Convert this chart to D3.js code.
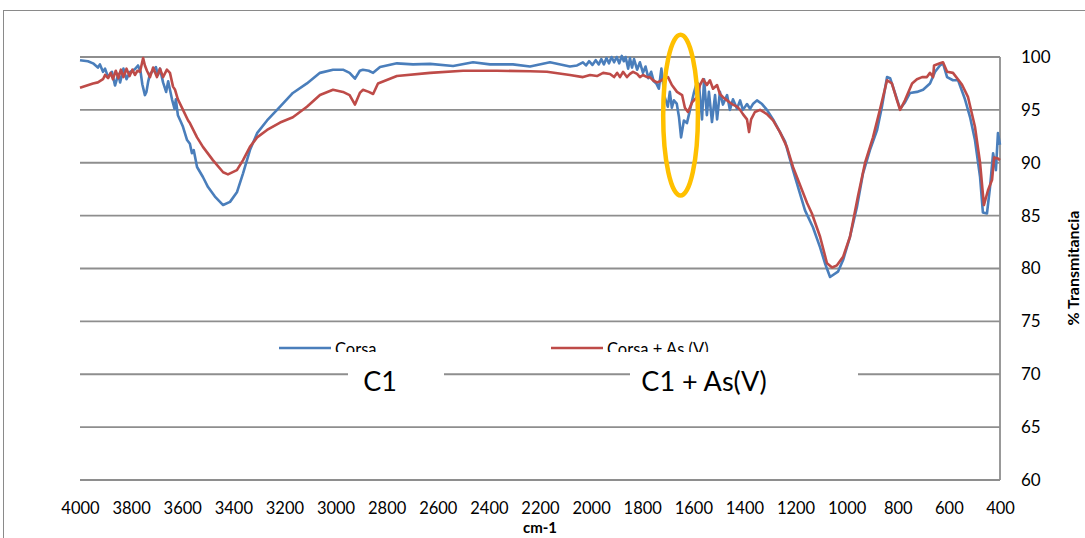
<!DOCTYPE html>
<html>
<head>
<meta charset="utf-8">
<script src="https://cdn.jsdelivr.net/npm/d3@7"></script>
<style>
  html, body { margin: 0; padding: 0; background: #fff; }
  svg { display: block; font-family: Lato, "Open Sans", sans-serif; }
</style>
</head>
<body>
<svg id="chart" width="1085" height="538"></svg>
<script>
// FTIR spectra: wavenumber (cm-1) vs % transmittance
const xTicks = [4000, 3800, 3600, 3400, 3200, 3000, 2800, 2600, 2400, 2200, 2000, 1800, 1600, 1400, 1200, 1000, 800, 600, 400];
const yTicks = [60, 65, 70, 75, 80, 85, 90, 95, 100];
const seriesNames = ["Corsa", "Corsa + As (V)"];
const boxLabels = ["C1", "C1 + As(V)"];

const corsa = [
  [4000, 99.7], [3969, 99.6], [3949, 99.4], [3930, 99.0], [3922, 99.3], [3910, 98.6], [3902, 98.9],
  [3890, 98.1], [3875, 98.6], [3863, 97.3], [3850, 98.4], [3843, 97.6], [3830, 98.9], [3818, 97.9],
  [3804, 98.6], [3785, 98.85], [3773, 99.2], [3763, 98.6], [3756, 97.4], [3746, 96.4], [3740, 96.7],
  [3733, 97.7], [3726, 98.4], [3714, 98.7], [3703, 99.05], [3695, 98.3], [3687, 98.9], [3675, 97.6],
  [3663, 96.7], [3655, 97.7], [3640, 96.0], [3630, 95.1], [3625, 96.0], [3617, 94.5], [3605, 93.85],
  [3597, 93.4], [3581, 92.15], [3570, 91.8], [3562, 90.9], [3555, 91.2], [3542, 89.6], [3519, 88.65],
  [3499, 87.7], [3472, 86.8], [3440, 86.0], [3413, 86.3], [3386, 87.2], [3362, 89.0], [3335, 91.2],
  [3307, 92.8], [3268, 94.0], [3217, 95.3], [3167, 96.6], [3112, 97.5], [3061, 98.5], [3010, 98.8],
  [2971, 98.8], [2945, 98.5], [2924, 97.95], [2905, 98.7], [2893, 98.8], [2870, 98.7], [2853, 98.5],
  [2826, 99.05], [2760, 99.4], [2697, 99.3], [2630, 99.35], [2540, 99.15], [2462, 99.5], [2396, 99.3],
  [2306, 99.3], [2239, 99.1], [2161, 99.5], [2083, 99.1], [2055, 99.2], [2032, 99.5], [2020, 99.2],
  [2008, 99.6], [1995, 99.25], [1982, 99.7], [1970, 99.3], [1960, 99.8], [1950, 99.3], [1940, 99.9],
  [1930, 99.4], [1920, 100.0], [1910, 99.5], [1900, 100.0], [1890, 99.4], [1880, 100.1], [1872, 99.6],
  [1865, 100.0], [1855, 98.9], [1848, 99.9], [1840, 99.0], [1832, 99.8], [1820, 98.8], [1809, 99.5],
  [1797, 98.5], [1787, 99.1], [1776, 98.0], [1765, 98.6], [1755, 97.7], [1745, 97.5], [1735, 97.0],
  [1725, 98.9], [1712, 96.2], [1700, 95.3], [1692, 96.7], [1684, 95.2], [1676, 95.9], [1665, 95.6],
  [1656, 94.3], [1648, 92.4], [1637, 94.0], [1625, 93.75], [1613, 95.0], [1598, 96.6], [1586, 97.6],
  [1578, 97.4], [1566, 94.1], [1558, 97.9], [1547, 94.5], [1539, 96.7], [1527, 93.85], [1515, 96.4],
  [1507, 94.1], [1496, 96.7], [1484, 95.5], [1468, 96.4], [1457, 95.0], [1445, 96.0], [1429, 95.1],
  [1417, 95.9], [1406, 95.0], [1390, 95.55], [1378, 95.1], [1367, 95.55], [1351, 95.9], [1331, 95.55],
  [1312, 95.0], [1288, 94.1], [1261, 92.9], [1241, 92.0], [1210, 89.3], [1183, 87.1], [1163, 85.5],
  [1132, 83.9], [1104, 82.0], [1085, 80.5], [1065, 79.2], [1034, 79.7], [1014, 80.8], [987, 83.0],
  [960, 85.8], [936, 89.0], [909, 91.2], [881, 93.1], [862, 95.3], [842, 98.1], [830, 98.0],
  [811, 96.6], [791, 95.1], [772, 95.7], [752, 96.6], [725, 96.7], [701, 96.9], [674, 97.5],
  [654, 98.6], [635, 99.2], [623, 99.4], [607, 98.1], [584, 97.8], [564, 97.8], [537, 96.0],
  [517, 94.3], [498, 92.15], [478, 88.65], [467, 85.3], [451, 85.2], [439, 87.7], [427, 90.9],
  [416, 89.3], [408, 92.8], [400, 91.7]
];

const corsaAs = [
  [4000, 97.1], [3949, 97.5], [3930, 97.6], [3910, 97.9], [3902, 98.3], [3890, 98.0], [3880, 98.5],
  [3871, 97.9], [3860, 98.7], [3850, 98.0], [3840, 98.8], [3830, 98.1], [3818, 98.9], [3806, 98.2],
  [3795, 98.8], [3785, 98.3], [3775, 98.7], [3765, 98.6], [3753, 99.9], [3746, 99.2], [3738, 98.7],
  [3726, 98.1], [3714, 99.0], [3699, 98.1], [3687, 98.9], [3675, 98.1], [3660, 98.8], [3648, 98.5],
  [3636, 97.2], [3628, 96.9], [3617, 96.0], [3597, 95.0], [3577, 94.0], [3570, 93.75], [3542, 92.4],
  [3519, 91.5], [3480, 90.25], [3440, 89.1], [3421, 88.9], [3386, 89.3], [3362, 90.25], [3335, 91.5],
  [3307, 92.4], [3268, 93.1], [3217, 93.8], [3167, 94.3], [3112, 95.3], [3061, 96.4], [3010, 96.9],
  [2971, 96.7], [2945, 96.4], [2924, 95.5], [2905, 96.6], [2893, 96.9], [2870, 96.7], [2853, 96.5],
  [2834, 97.5], [2760, 98.2], [2630, 98.5], [2501, 98.7], [2368, 98.7], [2239, 98.65], [2173, 98.6],
  [2083, 98.3], [2032, 98.1], [2004, 98.3], [1977, 98.2], [1953, 98.5], [1926, 98.4], [1910, 98.1],
  [1898, 98.5], [1887, 98.1], [1875, 98.6], [1860, 98.1], [1848, 98.4], [1836, 98.6], [1820, 98.4],
  [1809, 98.1], [1797, 98.3], [1781, 98.1], [1770, 98.1], [1758, 97.8], [1742, 97.6], [1730, 97.7],
  [1719, 97.9], [1699, 98.1], [1684, 97.35], [1664, 96.7], [1644, 96.4], [1633, 95.2], [1621, 94.8],
  [1605, 95.7], [1586, 96.2], [1574, 97.35], [1562, 97.9], [1547, 97.35], [1535, 97.8], [1523, 97.0],
  [1507, 97.35], [1496, 96.5], [1484, 96.2], [1468, 95.9], [1457, 95.7], [1445, 95.5], [1429, 95.3],
  [1417, 95.0], [1406, 94.6], [1390, 94.1], [1382, 92.9], [1374, 94.1], [1359, 94.8], [1339, 95.0],
  [1312, 94.6], [1288, 94.0], [1261, 92.9], [1234, 91.5], [1210, 89.6], [1155, 86.2], [1136, 85.2],
  [1104, 83.0], [1077, 80.5], [1057, 80.1], [1038, 80.3], [1014, 81.1], [987, 83.0], [956, 86.8],
  [928, 90.0], [897, 92.4], [870, 95.0], [842, 97.8], [823, 97.5], [803, 95.9], [791, 95.0],
  [772, 95.9], [744, 97.5], [725, 97.9], [705, 98.1], [686, 98.1], [674, 98.5], [662, 98.1],
  [658, 99.2], [635, 99.4], [623, 99.5], [607, 98.6], [584, 98.5], [549, 97.4], [525, 96.2],
  [498, 93.4], [478, 90.0], [463, 86.0], [447, 87.4], [431, 88.4], [423, 90.5], [408, 90.4],
  [400, 90.25]
];

// highlighted band (centre wavenumber, centre %T, half-width cm-1, half-height %T)
const highlight = [1650, 94.5, 68, 7.6];

const colors = ["#4a7ebb", "#be4b48"];
const gridColor = "#8e8e8e";

const svg = d3.select("#chart");
const plot = { left: 80, right: 1000, top: 57, bottom: 480 };

const x = d3.scaleLinear().domain([4000, 400]).range([plot.left, plot.right]);
const y = d3.scaleLinear().domain([60, 100]).range([plot.bottom, plot.top]);

// outer chart frame
svg.append("rect")
  .attr("x", 3.5).attr("y", 10.5).attr("width", 1200).attr("height", 600)
  .attr("fill", "none").attr("stroke", "#8a8a8a").attr("stroke-width", 1);

// horizontal gridlines
svg.append("g").selectAll("line").data(yTicks).join("line")
  .attr("x1", plot.left).attr("x2", plot.right)
  .attr("y1", d => y(d)).attr("y2", d => y(d))
  .attr("stroke", gridColor).attr("stroke-width", 1.8);

// right axis line
svg.append("line")
  .attr("x1", plot.right).attr("x2", plot.right)
  .attr("y1", plot.top).attr("y2", plot.bottom)
  .attr("stroke", gridColor).attr("stroke-width", 1.8);

// right axis labels
const yAxis = d3.axisRight(y).tickValues(yTicks).tickSize(0).tickPadding(21);
const gy = svg.append("g").attr("transform", `translate(${plot.right},0)`).call(yAxis);
gy.select(".domain").remove();
gy.selectAll("text").attr("font-family", "Lato, sans-serif").attr("font-size", 17).attr("fill", "#000");

// bottom axis labels
const xAxis = d3.axisBottom(x).tickValues(xTicks).tickSize(0).tickPadding(22).tickFormat(d3.format("d"));
const gx = svg.append("g").attr("transform", `translate(0,${plot.bottom})`).call(xAxis);
gx.select(".domain").remove();
gx.selectAll("text").attr("font-family", "Lato, sans-serif").attr("font-size", 16.5).attr("fill", "#000");

// axis titles
svg.append("text")
  .attr("x", 540).attr("y", 533).attr("text-anchor", "middle")
  .attr("font-weight", "bold").attr("font-size", 15).text("cm-1");
svg.append("text")
  .attr("transform", "translate(1079,268) rotate(-90)").attr("text-anchor", "middle")
  .attr("font-weight", "bold").attr("font-size", 16).text("% Transmitancia");

// spectra
const line = d3.line().x(d => x(d[0])).y(d => y(d[1]));
[corsa, corsaAs].forEach((s, i) => {
  svg.append("path").datum(s)
    .attr("fill", "none").attr("stroke", colors[i]).attr("stroke-width", 2.6)
    .attr("stroke-linejoin", "round").attr("d", line);
});

// legend (clipped along its lower edge)
svg.append("clipPath").attr("id", "legclip")
  .append("rect").attr("x", 0).attr("y", 320).attr("width", 1085).attr("height", 32);
const leg = svg.append("g").attr("clip-path", "url(#legclip)");
const legX = [279, 551];
seriesNames.forEach((n, i) => {
  leg.append("line").attr("x1", legX[i]).attr("x2", legX[i] + 52)
    .attr("y1", 348).attr("y2", 348).attr("stroke", colors[i]).attr("stroke-width", 2.5);
  leg.append("text").attr("x", legX[i] + 56).attr("y", 355)
    .attr("font-size", 16.5).attr("fill", "#000").text(n);
});

// sample label boxes sitting on the 70 % gridline
const boxes = [[348, 444, 380], [630, 858, 704]];
boxLabels.forEach((t, i) => {
  const b = boxes[i];
  svg.append("rect").attr("x", b[0]).attr("y", 353).attr("width", b[1] - b[0]).attr("height", 46).attr("fill", "#fff");
  svg.append("text").attr("x", b[2]).attr("y", 391).attr("text-anchor", "middle")
    .attr("font-size", 27).attr("fill", "#000").text(t);
});

// highlighted band
svg.append("ellipse")
  .attr("cx", x(highlight[0])).attr("cy", y(highlight[1]))
  .attr("rx", x(highlight[0] - highlight[2]) - x(highlight[0]))
  .attr("ry", y(highlight[1] - highlight[3]) - y(highlight[1]))
  .attr("fill", "none").attr("stroke", "#ffc000").attr("stroke-width", 4.5);
</script>
</body>
</html>
